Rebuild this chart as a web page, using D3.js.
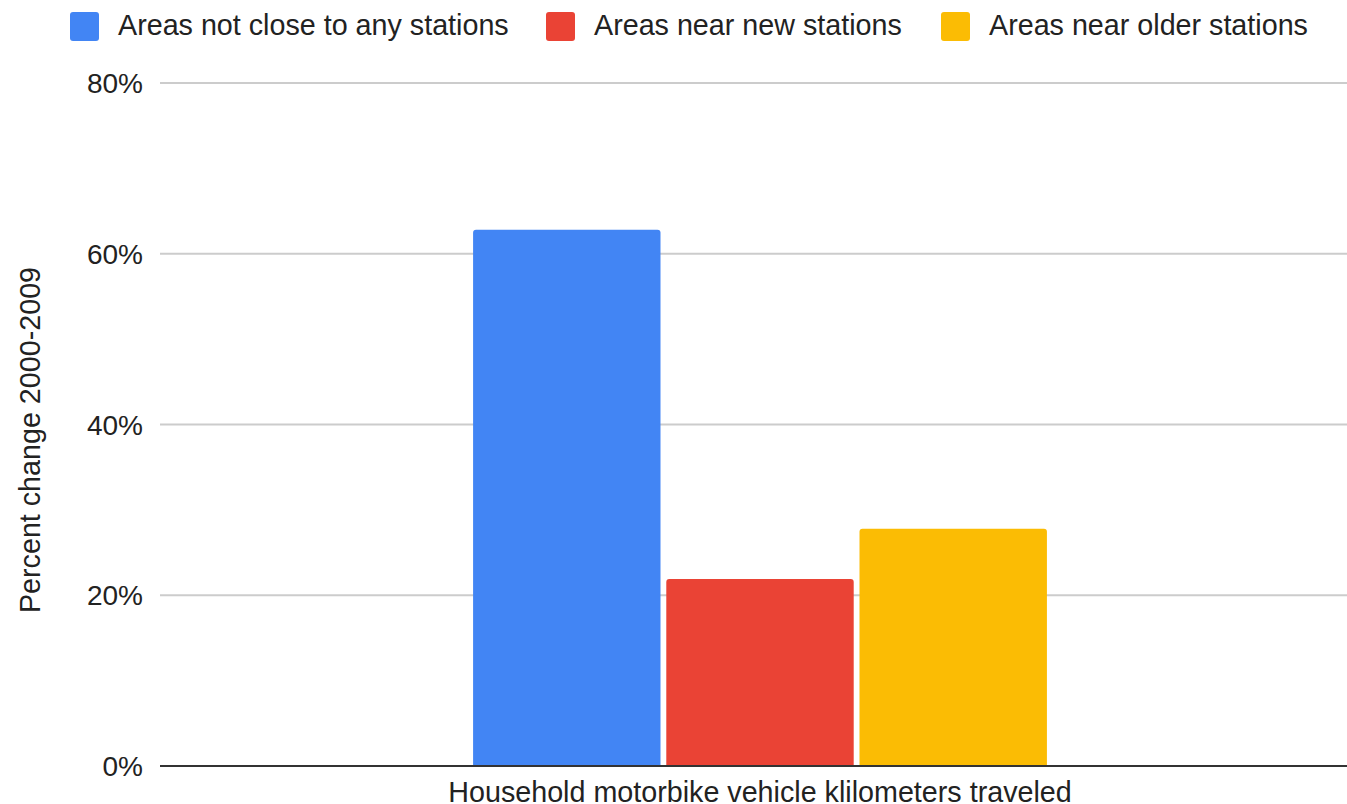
<!DOCTYPE html>
<html>
<head>
<meta charset="utf-8">
<script src="https://cdn.jsdelivr.net/npm/d3@7"></script>
<style>
  body { margin: 0; background: #fff; overflow: hidden; }
  text { font-family: "Liberation Sans", Arial, sans-serif; fill: #222; }
</style>
</head>
<body>
<script>
// chart data
const categories = ["Household motorbike vehicle klilometers traveled"];
const seriesNames = ["Areas not close to any stations", "Areas near new stations", "Areas near older stations"];
const seriesValues = [0.628, 0.219, 0.278];
const seriesColors = ["#4285F4", "#EA4335", "#FBBC04"];
const yTicks = [0, 0.2, 0.4, 0.6, 0.8];
const yTitle = "Percent change 2000-2009";

const width = 1347, height = 804;
const plotLeft = 160, plotRight = 1360, plotTop = 83, plotBottom = 766;
const labelSize = 28.7;

const svg = d3.select("body").append("svg")
  .attr("width", width)
  .attr("height", height);

const y = d3.scaleLinear().domain([0, 0.8]).range([plotBottom, plotTop]);
const x0 = d3.scaleBand().domain(categories).range([plotLeft, plotRight]).padding(0.353);
const x1 = d3.scaleBand().domain(seriesNames).range([0, x0.bandwidth()]).paddingInner(0.03);

// gridlines
svg.append("g")
  .selectAll("line")
  .data(yTicks.filter(d => d > 0))
  .join("line")
  .attr("x1", plotLeft).attr("x2", width)
  .attr("y1", d => y(d)).attr("y2", d => y(d))
  .attr("stroke", "#cccccc")
  .attr("stroke-width", 2);

// tick labels
svg.append("g")
  .selectAll("text")
  .data(yTicks)
  .join("text")
  .attr("x", 143)
  .attr("y", d => y(d))
  .attr("dy", "0.36em")
  .attr("text-anchor", "end")
  .attr("font-size", 28)
  .text(d3.format(".0%"));

// rounded-top bar path
function barPath(x, yTop, w, h, r) {
  return `M${x},${yTop + h}V${yTop + r}Q${x},${yTop} ${x + r},${yTop}` +
    `H${x + w - r}Q${x + w},${yTop} ${x + w},${yTop + r}V${yTop + h}Z`;
}

const groups = svg.append("g")
  .selectAll("g")
  .data(categories)
  .join("g")
  .attr("transform", d => `translate(${x0(d)},0)`);

groups.selectAll("path")
  .data(() => seriesNames.map((s, k) => ({ name: s, value: seriesValues[k], color: seriesColors[k] })))
  .join("path")
  .attr("d", d => barPath(x1(d.name), y(d.value), x1.bandwidth(), plotBottom - y(d.value), 3))
  .attr("fill", d => d.color);

// baseline
svg.append("line")
  .attr("x1", plotLeft).attr("x2", width)
  .attr("y1", plotBottom).attr("y2", plotBottom)
  .attr("stroke", "#333")
  .attr("stroke-width", 2);

// x category label (cut by the bottom edge, as in the source)
svg.append("g")
  .selectAll("text")
  .data(categories)
  .join("text")
  .attr("x", d => x0(d) + x0.bandwidth() / 2)
  .attr("y", 802)
  .attr("text-anchor", "middle")
  .attr("font-size", labelSize)
  .text(d => d);

// y title
svg.append("text")
  .attr("transform", "translate(40,440) rotate(-90)")
  .attr("text-anchor", "middle")
  .attr("font-size", labelSize)
  .text(yTitle);

// legend
const legendX = [70, 546, 941];
const legend = svg.append("g")
  .selectAll("g")
  .data(seriesNames)
  .join("g")
  .attr("transform", (d, i) => `translate(${legendX[i]},12)`);

legend.append("rect")
  .attr("width", 29).attr("height", 29)
  .attr("rx", 3)
  .attr("fill", (d, i) => seriesColors[i]);

legend.append("text")
  .attr("x", 48)
  .attr("y", 23)
  .attr("font-size", labelSize)
  .text(d => d);
</script>
</body>
</html>
